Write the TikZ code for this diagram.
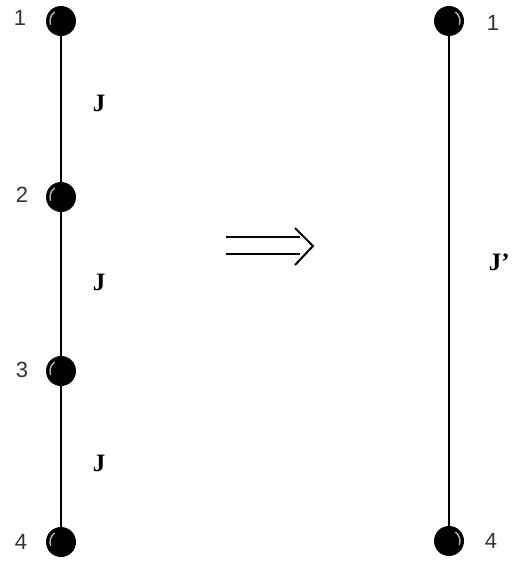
\documentclass[tikz,border=0pt]{standalone}
\usepackage{fontspec}
\setmainfont{Liberation Serif}
\newfontfamily\numfont{Liberation Sans}
\usetikzlibrary{positioning,arrows.meta}

\begin{document}
\begin{tikzpicture}[
  x=1pt, y=-1pt,
  site/.style={circle, fill=black, minimum size=30pt, inner sep=0pt},
  shine/.style={draw=black!30, line width=1.4pt},
  bond/.style={line width=2pt},
  num/.style={font=\numfont\fontsize{22}{22}\selectfont, text=black!80, inner sep=0pt},
  cpl/.style={font=\bfseries\fontsize{25}{25}\selectfont, inner sep=0pt},
  imp/.style={line width=2pt}
]
\useasboundingbox (0,0) rectangle (512,561);
% Enlaces
\draw[bond] (61,21) -- (61,542);
\draw[bond] (449,21) -- (449,541);

% Cadena original (izquierda)
\node[site] (s1) at (61,21)  {};
\node[site] (s2) at (61,197) {};
\node[site] (s3) at (61,371) {};
\node[site] (s4) at (61,542) {};
\node[num] (n1) at (20,18)  {1};
\node[num] (n2) at (22,195) {2};
\node[num] (n3) at (22,370) {3};
\node[num] (n4) at (21,542) {4};
\node[cpl] (j1) at (99,103) {J};
\node[cpl] (j2) at (99,282) {J};
\node[cpl] (j3) at (99,463) {J};

% Cadena renormalizada (derecha)
\node[site] (r1) at (449,21)  {};
\node[site] (r4) at (449,541) {};
\node[num] (m1) at (493,23)  {1};
\node[num] (m4) at (491,541) {4};
\node[cpl, anchor=east] (jp) at (510,262) {J'};

% Brillo de las esferas
\foreach \s in {s1,s2,s3,s4}
  \draw[shine] ([shift={(200:11pt)}]\s.center) arc[start angle=200, end angle=125, radius=11pt];
\foreach \s in {r1,r4}
  \draw[shine] ([shift={(-20:11pt)}]\s.center) arc[start angle=-20, end angle=55, radius=11pt];

% Flecha de implicacion
\coordinate (a0) at (226,237);
\coordinate (a1) at (300,237);
\coordinate (b0) at (226,254);
\coordinate (b1) at (300,254);
\coordinate (tip) at (313,246);
\draw[imp] (a0) -- (a1);
\draw[imp] (b0) -- (b1);
\draw[imp] (295,228) -- (tip) -- (295,265);
\end{tikzpicture}
\end{document}
